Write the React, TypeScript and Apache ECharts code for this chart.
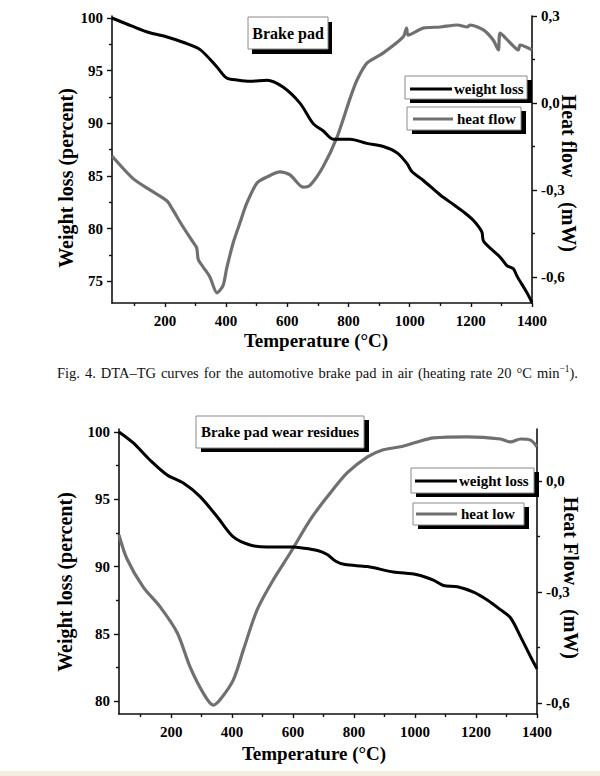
import React, { useEffect, useRef } from "react";
import * as echarts from "echarts";

// ---- Figure 4: brake pad ----
const tgTemp1 = [27, 95, 151, 207, 259, 315, 370, 402, 440, 478, 534, 586, 642, 684, 717, 750, 805, 860, 914, 959, 991, 1008, 1044, 1100, 1143, 1176, 1208, 1236, 1242, 1296, 1318, 1339, 1351, 1384, 1400];
const tgWeight1 = [100, 99.2, 98.6, 98.2, 97.7, 97.0, 95.35, 94.3, 94.1, 94.0, 94.1, 93.45, 91.9, 90.0, 89.3, 88.5, 88.5, 88.1, 87.8, 87.2, 86.2, 85.4, 84.6, 83.2, 82.3, 81.6, 80.8, 79.7, 78.8, 77.3, 76.5, 76.2, 75.5, 73.9, 73.0];
const dtaTemp1 = [27, 95, 151, 207, 226, 259, 292, 304, 309, 325, 347, 370, 390, 402, 423, 445, 468, 501, 534, 576, 609, 651, 675, 717, 763, 805, 828, 861, 913, 979, 990, 995, 1044, 1100, 1156, 1188, 1198, 1241, 1273, 1290, 1296, 1329, 1355, 1361, 1400];
const dtaFlow1 = [-0.183, -0.26, -0.3, -0.338, -0.369, -0.427, -0.48, -0.5, -0.54, -0.566, -0.6, -0.655, -0.63, -0.57, -0.483, -0.414, -0.345, -0.276, -0.255, -0.238, -0.248, -0.29, -0.283, -0.22, -0.117, 0.015, 0.079, 0.138, 0.172, 0.228, 0.258, 0.234, 0.258, 0.262, 0.269, 0.262, 0.269, 0.252, 0.217, 0.183, 0.241, 0.207, 0.183, 0.2, 0.183];

// ---- Figure: brake pad wear residues ----
const tgTemp2 = [29, 75, 131, 187, 240, 295, 351, 404, 459, 515, 560, 601, 624, 680, 712, 740, 770, 844, 929, 1007, 1060, 1093, 1139, 1192, 1238, 1280, 1313, 1346, 1379, 1400];
const tgWeight2 = [100, 99.2, 97.9, 96.8, 96.2, 95.2, 93.7, 92.2, 91.6, 91.45, 91.45, 91.45, 91.4, 91.2, 90.9, 90.4, 90.15, 90.0, 89.6, 89.4, 89.0, 88.6, 88.5, 88.1, 87.5, 86.8, 86.2, 84.8, 83.3, 82.4];
const dtaTemp2 = [29, 55, 108, 164, 220, 262, 305, 338, 361, 404, 437, 482, 535, 591, 656, 712, 778, 844, 896, 952, 1007, 1060, 1172, 1280, 1313, 1346, 1379, 1400];
const dtaFlow2 = [-0.146, -0.21, -0.286, -0.34, -0.41, -0.502, -0.572, -0.605, -0.59, -0.537, -0.456, -0.348, -0.267, -0.194, -0.105, -0.043, 0.022, 0.065, 0.084, 0.092, 0.105, 0.116, 0.119, 0.113, 0.105, 0.113, 0.11, 0.092];

// ---- tick values ----
const xMajorTicks = [200, 400, 600, 800, 1000, 1200, 1400];
const xMinorTicks = [100, 300, 500, 700, 900, 1100, 1300];
const wtTicks1 = [75, 80, 85, 90, 95, 100];
const wtMinor1 = [77.5, 82.5, 87.5, 92.5, 97.5];
const flowTicks1 = [-0.6, -0.3, 0, 0.3];
const flowMinor1 = [-0.45, -0.15, 0.15];
const wtTicks2 = [80, 85, 90, 95, 100];
const wtMinor2 = [82.5, 87.5, 92.5, 97.5];
const flowTicks2 = [-0.6, -0.3, 0];
const flowMinor2 = [-0.45, -0.15];

// caption words (last word carries the superscript)
const captionWords = ["Fig.", "4.", "DTA–TG", "curves", "for", "the", "automotive", "brake", "pad", "in", "air", "(heating", "rate", "20", "°C"];
const captionLastBase = "min";
const captionLastSup = "−1";
const captionLastTail = ").";

const FONT = "'Liberation Serif', 'Times New Roman', serif";
const AX = "#111";

const pairs = (xs: number[], ys: number[]) => xs.map((x, i) => [x, ys[i]]);
const commaFmt = (v: number) => v.toFixed(1).replace(".", ",");

function xAxisDef(gridIndex: number, min: number, major: boolean) {
  return {
    type: "value",
    gridIndex,
    min,
    max: 1400,
    position: "bottom",
    axisLine: { show: major, onZero: false, lineStyle: { color: AX, width: 1.6 } },
    axisTick: {
      show: true,
      inside: false,
      length: major ? 4 : 3,
      customValues: major ? xMajorTicks : xMinorTicks,
      lineStyle: { color: AX, width: 1.4 },
    },
    axisLabel: {
      show: major,
      customValues: xMajorTicks,
      margin: 10,
      color: "#000",
      fontFamily: FONT,
      fontWeight: "bold",
      fontSize: 15,
      formatter: (v: number) => String(v),
    },
    splitLine: { show: false },
  };
}

function yAxisDef(
  gridIndex: number,
  position: string,
  min: number,
  max: number,
  ticks: number[],
  major: boolean,
  fmt: (v: number) => string
) {
  return {
    type: "value",
    gridIndex,
    position,
    min,
    max,
    axisLine: { show: major, onZero: false, lineStyle: { color: AX, width: 1.6 } },
    axisTick: {
      show: true,
      inside: false,
      length: major ? 5 : 3,
      customValues: ticks,
      lineStyle: { color: AX, width: 1.4 },
    },
    axisLabel: {
      show: major,
      customValues: ticks,
      margin: 9,
      color: "#000",
      fontFamily: FONT,
      fontWeight: "bold",
      fontSize: 15,
      formatter: fmt,
    },
    splitLine: { show: false },
  };
}

function boxed(x: number, y: number, w: number, h: number, sx: number, sy: number) {
  return [
    { type: "rect", shape: { x: x + sx, y: y + sy, width: w, height: h }, style: { fill: "#000" }, z: 10 },
    { type: "rect", shape: { x, y, width: w, height: h }, style: { fill: "#fff", stroke: "#8a8a8a", lineWidth: 1 }, z: 11 },
  ];
}

function legendItem(x: number, y: number, w: number, h: number, lx1: number, lx2: number, ly: number, tx: number, label: string, color: string) {
  return [
    ...boxed(x, y, w, h, 5, 4),
    { type: "line", shape: { x1: lx1, y1: ly, x2: lx2, y2: ly }, style: { stroke: color, lineWidth: 3 }, z: 12 },
    {
      type: "text",
      x: tx,
      y: ly,
      style: { text: label, fill: "#000", font: `bold 15px ${FONT}`, textAlign: "left", textVerticalAlign: "middle" },
      z: 12,
    },
  ];
}

function title(x: number, y: number, text: string, rotation: number, size: number) {
  return {
    type: "text",
    x,
    y,
    rotation,
    style: { text, fill: "#000", font: `bold ${size}px ${FONT}`, textAlign: "center", textVerticalAlign: "middle" },
    z: 12,
  };
}

function captionGraphics(left: number, right: number, y: number, size: number) {
  const canvas = document.createElement("canvas");
  const ctx = canvas.getContext("2d");
  const measure = (t: string, s: number) => {
    if (!ctx) return t.length * s * 0.45;
    ctx.font = `${s}px 'Liberation Serif'`;
    return ctx.measureText(t).width;
  };
  const supSize = 9.5;
  const widths = captionWords.map((w) => measure(w, size));
  const lastW = measure(captionLastBase, size) + measure(captionLastSup, supSize) + measure(captionLastTail, size);
  const total = widths.reduce((a, b) => a + b, 0) + lastW;
  const gap = (right - left - total) / captionWords.length;
  const out: any[] = [];
  let x = left;
  captionWords.forEach((w, i) => {
    out.push({
      type: "text",
      x,
      y,
      style: { text: w, fill: "#111", font: `${size}px ${FONT}`, textAlign: "left", textVerticalAlign: "middle" },
      z: 12,
    });
    x += widths[i] + gap;
  });
  out.push({
    type: "text",
    x,
    y,
    style: {
      text: `{a|${captionLastBase}}{s|${captionLastSup}}{a|${captionLastTail}}`,
      rich: {
        a: { fontFamily: FONT, fontSize: size, fill: "#111" },
        s: { fontFamily: FONT, fontSize: supSize, fill: "#111", padding: [0, 0, 8, 0] },
      },
      textAlign: "left",
      textVerticalAlign: "middle",
    },
    z: 12,
  });
  return out;
}

export default function App() {
  const ref = useRef<HTMLDivElement>(null);

  useEffect(() => {
    if (!ref.current) return;
    const chart = echarts.init(ref.current, null, { renderer: "svg" });

    const gray = "#707070";

    const option: any = {
      animation: false,
      backgroundColor: "#fff",
      grid: [
        { left: 112, top: 16, width: 420, height: 287 },
        { left: 119, top: 429, width: 418, height: 285 },
      ],
      xAxis: [
        xAxisDef(0, 27, true),
        xAxisDef(1, 29, true),
        xAxisDef(0, 27, false),
        xAxisDef(1, 29, false),
      ],
      yAxis: [
        yAxisDef(0, "left", 72.95, 100.19, wtTicks1, true, (v) => String(v)),
        yAxisDef(0, "right", -0.69, 0.3, flowTicks1, true, commaFmt),
        yAxisDef(1, "left", 79.05, 100.22, wtTicks2, true, (v) => String(v)),
        yAxisDef(1, "right", -0.629, 0.14, flowTicks2, true, commaFmt),
        yAxisDef(0, "left", 72.95, 100.19, wtMinor1, false, (v) => String(v)),
        yAxisDef(0, "right", -0.69, 0.3, flowMinor1, false, commaFmt),
        yAxisDef(1, "left", 79.05, 100.22, wtMinor2, false, (v) => String(v)),
        yAxisDef(1, "right", -0.629, 0.14, flowMinor2, false, commaFmt),
      ],
      series: [
        {
          name: "heat flow",
          type: "line",
          xAxisIndex: 0,
          yAxisIndex: 1,
          data: pairs(dtaTemp1, dtaFlow1),
          showSymbol: false,
          smooth: 0.25,
          lineStyle: { color: gray, width: 3.2 },
          z: 2,
        },
        {
          name: "weight loss",
          type: "line",
          xAxisIndex: 0,
          yAxisIndex: 0,
          data: pairs(tgTemp1, tgWeight1),
          showSymbol: false,
          smooth: 0.3,
          lineStyle: { color: "#000", width: 3 },
          z: 3,
        },
        {
          name: "heat low",
          type: "line",
          xAxisIndex: 1,
          yAxisIndex: 3,
          data: pairs(dtaTemp2, dtaFlow2),
          showSymbol: false,
          smooth: 0.3,
          lineStyle: { color: gray, width: 3.2 },
          z: 2,
        },
        {
          name: "weight loss 2",
          type: "line",
          xAxisIndex: 1,
          yAxisIndex: 2,
          data: pairs(tgTemp2, tgWeight2),
          showSymbol: false,
          smooth: 0.3,
          lineStyle: { color: "#000", width: 3 },
          z: 3,
        },
      ],
      graphic: [
        // chart 1 annotation boxes
        ...boxed(248, 17, 80, 32, 4, 5),
        title(288, 33, "Brake pad", 0, 16),
        ...legendItem(405, 76, 122, 23, 410, 452, 89, 454, "weight loss", "#000"),
        ...legendItem(407, 107, 114, 23, 413, 453, 119, 457, "heat flow", gray),
        // chart 1 axis titles
        title(66, 178, "Weight loss (percent)", Math.PI / 2, 20),
        title(569, 136, "Heat flow", -Math.PI / 2, 20),
        title(569, 227, "(mW)", -Math.PI / 2, 20),
        title(316, 340, "Temperature (°C)", 0, 19),
        // caption
        ...captionGraphics(57, 578, 373, 14.5),
        // chart 2 annotation boxes
        ...boxed(196, 416, 168, 32, 5, 4),
        title(280, 432, "Brake pad wear residues", 0, 15),
        ...legendItem(411, 468, 123, 25, 415, 457, 481, 459, "weight loss", "#000"),
        ...legendItem(413, 503, 111, 22, 416, 457, 514, 461, "heat low", gray),
        // chart 2 axis titles
        title(65, 582, "Weight loss (percent)", Math.PI / 2, 20),
        title(571, 541, "Heat Flow", -Math.PI / 2, 20),
        title(571, 634, "(mW)", -Math.PI / 2, 20),
        title(314, 753, "Temperature (°C)", 0, 19),
        // bottom band
        { type: "rect", shape: { x: 0, y: 771, width: 600, height: 5 }, style: { fill: "#f2eedb" }, z: 1 },
      ],
    };

    chart.setOption(option);
    return () => chart.dispose();
  }, []);

  return (
    <div
      ref={ref}
      style={{ position: "fixed", left: 0, top: 0, width: 600, height: 776, background: "#fff" }}
    />
  );
}
